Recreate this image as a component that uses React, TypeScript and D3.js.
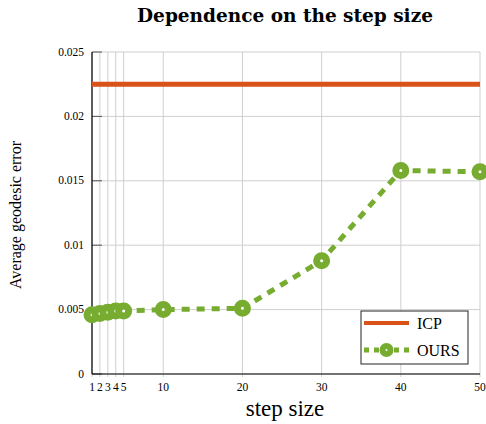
import React from 'react';
import * as d3 from 'd3';

const steps = [1, 2, 3, 4, 5, 10, 20, 30, 40, 50];
const oursError = [0.0046, 0.0047, 0.0048, 0.0049, 0.0049, 0.005, 0.0051, 0.0088, 0.0158, 0.0157];
const icpError = 0.0225;
const yTicks = [0, 0.005, 0.01, 0.015, 0.02, 0.025];
const yTickLabels = ['0', '0.005', '0.01', '0.015', '0.02', '0.025'];

const width = 486;
const height = 424;
const margin = { top: 52, right: 6, bottom: 50, left: 92 };
const font = '"Liberation Serif", "DejaVu Serif", serif';
const green = '#77ac30';
const orange = '#d95319';

const App = () => {
  const x = d3.scaleLinear().domain([1, 50]).range([margin.left, width - margin.right]);
  const y = d3.scaleLinear().domain([0, 0.025]).range([height - margin.bottom, margin.top]);

  const line = d3.line<number>()
    .x((d, i) => x(steps[i]))
    .y(d => y(d));

  const x0 = x(1);
  const x1 = x(50);
  const y0 = y(0);
  const yTop = y(0.025);

  return (
    <svg width={width} height={height} style={{ position: 'absolute', left: 0, top: 0 }}>
      <text x={285} y={22} textAnchor="middle" fontFamily='"DejaVu Serif", serif' fontWeight="bold" fontSize={18.5}>
        Dependence on the step size
      </text>

      {/* grid */}
      {steps.map(s => (
        <line key={'gx' + s} x1={x(s)} x2={x(s)} y1={yTop} y2={y0 + 3} stroke="#cfcfcf" strokeWidth={1} />
      ))}
      {yTicks.map(t => (
        <line key={'gy' + t} x1={x0} x2={x1} y1={y(t)} y2={y(t)} stroke="#cfcfcf" strokeWidth={1} />
      ))}

      {/* y ticks */}
      {yTicks.map((t, i) => (
        <g key={'yt' + t}>
          <line x1={x0} x2={x0 + 10} y1={y(t)} y2={y(t)} stroke="#555" strokeWidth={1} />
          <text x={x0 - 8} y={y(t) + 3.5} textAnchor="end" fontFamily={font} fontSize={11.5}>
            {yTickLabels[i]}
          </text>
        </g>
      ))}

      {/* x tick labels */}
      {steps.map(s => (
        <text key={'xt' + s} x={x(s)} y={y0 + 17} textAnchor="middle" fontFamily={font} fontSize={11.5}>
          {s}
        </text>
      ))}

      {/* axes */}
      <line x1={x0} x2={x0} y1={yTop} y2={y0} stroke="#000" strokeWidth={1.2} />
      <line x1={x0} x2={x1} y1={y0} y2={y0} stroke="#000" strokeWidth={1.2} />

      {/* ICP */}
      <line x1={x0} x2={x1} y1={y(icpError)} y2={y(icpError)} stroke={orange} strokeWidth={5} />

      {/* OURS */}
      <path d={line(oursError) ?? ''} fill="none" stroke={green} strokeWidth={5} strokeDasharray="8,7" />
      {oursError.map((v, i) => (
        <circle key={'p' + i} cx={x(steps[i])} cy={y(v)} r={5} fill="#fff" stroke={green} strokeWidth={7} />
      ))}

      {/* legend */}
      <g>
        <rect x={361} y={311} width={107} height={53} fill="#fff" stroke="#222" strokeWidth={1} />
        <line x1={364} x2={409} y1={323} y2={323} stroke={orange} strokeWidth={4} />
        <text x={417} y={329} fontFamily={font} fontSize={16}>ICP</text>
        <line x1={364} x2={409} y1={350} y2={350} stroke={green} strokeWidth={5} strokeDasharray="5,5" />
        <circle cx={386.5} cy={350} r={4} fill="#fff" stroke={green} strokeWidth={6} />
        <text x={417} y={356} fontFamily={font} fontSize={16}>OURS</text>
      </g>

      {/* axis labels */}
      <text x={285} y={416} textAnchor="middle" fontFamily={font} fontSize={23}>step size</text>
      <text
        transform={`translate(21,${(yTop + y0) / 2 + 2}) rotate(-90)`}
        textAnchor="middle"
        fontFamily={font}
        fontSize={16}
      >
        Average geodesic error
      </text>
    </svg>
  );
};

export default App;
